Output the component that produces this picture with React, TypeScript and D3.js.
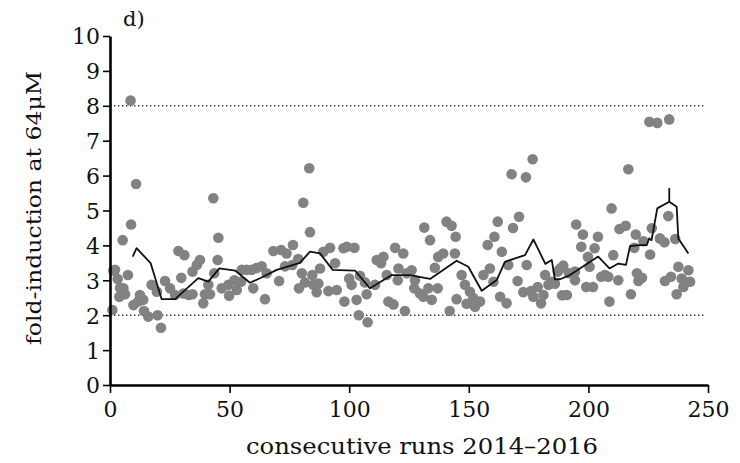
import React, { useEffect, useRef } from 'react';
import * as d3 from 'd3';

// individual runs: [run number, fold-induction]
const runs: [number, number][] = [
  [1, 2.15], [1.4, 3.28], [2.1, 3.3], [3.2, 3.04], [3.9, 2.53], [4.2, 2.78], [5.3, 4.15], [5.6, 2.77],
  [6.3, 2.6], [7.5, 3.15], [8.6, 8.15], [8.8, 4.6], [9.8, 2.29], [10.9, 5.76], [11.8, 2.39], [12.5, 2.58],
  [13.9, 2.44], [14.2, 2.12], [16, 1.96], [17.4, 2.87], [19.6, 2.67], [19.9, 2.0], [21.3, 1.64], [23, 2.98],
  [25.1, 2.77], [27.2, 2.58], [28.6, 3.84], [29.8, 3.07], [30.7, 2.62], [31.1, 3.72], [32.9, 2.58], [34.5, 2.6],
  [34.5, 3.25], [36.3, 3.44], [37.6, 3.58], [39, 2.34], [39.7, 2.6], [41.1, 2.87], [41.8, 2.6], [43.2, 5.35],
  [43.6, 3.2], [45, 3.58], [45.3, 4.22], [46.7, 2.77], [49.5, 2.87], [49.8, 2.56], [52, 3.0], [53, 2.72],
  [54.8, 2.96], [55.1, 3.3], [57.2, 3.3], [59.3, 3.3], [59.9, 2.77], [61.3, 3.35], [63.4, 3.4], [64.8, 2.46],
  [65.5, 3.2], [68.3, 3.84], [70.7, 2.98], [71.5, 3.87], [73.2, 3.4], [73.8, 3.77], [76.2, 3.44], [76.5, 4.01],
  [78.7, 3.61], [79, 2.77], [80.2, 3.2], [80.8, 5.22], [81.5, 2.94], [83.3, 6.21], [83.6, 4.38], [84.6, 3.15],
  [85, 2.87], [86.4, 2.66], [87.1, 2.91], [87.8, 3.34], [89.2, 3.82], [91.3, 2.69], [92, 3.93], [94.1, 3.49],
  [94.8, 2.72], [97.6, 3.92], [98, 2.39], [99, 3.96], [100, 3.05], [101, 2.87], [102.2, 3.93], [103.1, 2.44],
  [104, 2.0], [104.5, 3.13], [106.6, 2.94], [107.3, 2.6], [107.7, 1.8], [110.8, 2.87], [111.5, 3.58], [113.3, 3.49],
  [114.3, 3.67], [115.7, 3.15], [116.4, 2.39], [118.5, 2.31], [119.2, 3.93], [120.3, 3.0], [120.6, 3.34], [122.6, 3.77],
  [123.3, 2.12], [124.1, 3.2], [126.1, 3.29], [127.2, 2.77], [127.5, 3.0], [129.6, 2.62], [131, 2.53], [131.4, 4.51],
  [133.1, 2.77], [133.8, 4.15], [134.5, 2.44], [135.8, 3.36], [137, 2.77], [137.2, 3.67], [139.3, 3.77], [140.7, 4.68],
  [142, 2.12], [142.8, 4.56], [144.2, 3.77], [144.5, 4.25], [144.9, 2.46], [147, 3.15], [148.4, 2.87], [149.1, 2.33],
  [150.5, 2.67], [151.9, 2.49], [152.6, 2.24], [154.7, 2.39], [156.1, 3.15], [157.9, 4.01], [158.8, 3.34], [160.3, 2.96],
  [160.7, 4.25], [162.1, 4.68], [163.1, 2.53], [163.8, 3.82], [165.8, 2.34], [166.5, 3.44], [168.5, 4.5], [167.9, 6.04],
  [170.4, 2.98], [171, 4.82], [172.8, 2.66], [173.9, 5.95], [174.2, 3.44], [176, 2.69], [176.7, 6.47], [177, 2.53],
  [178.8, 2.81], [180.2, 2.34], [181.2, 2.58], [181.9, 3.15], [183.3, 2.87], [184.7, 2.96], [186, 2.9], [187.2, 3.25],
  [188.2, 3.34], [189, 2.57], [189.5, 3.42], [191, 2.58], [191.9, 3.2], [194.4, 3.0], [194.4, 3.25], [194.9, 4.6],
  [197, 3.96], [197.7, 4.31], [199.1, 2.81], [199.8, 3.67], [200.5, 3.39], [201.9, 2.81], [202.6, 3.92], [204, 4.25],
  [205.4, 3.1], [206.9, 3.15], [208.3, 3.1], [208.8, 2.39], [209.7, 5.06], [210.4, 3.72], [212.5, 3.0], [213, 4.47],
  [215.6, 4.56], [216.7, 6.18], [217.8, 2.6], [219.2, 3.93], [219.8, 4.31], [220.3, 3.2], [220.9, 2.98], [222.4, 3.07],
  [223, 4.12], [225.5, 7.54], [225.8, 3.74], [226.5, 4.49], [228.8, 7.51], [229.9, 4.2], [231.8, 4.09], [232, 2.98],
  [233.4, 4.84], [233.8, 7.61], [234.5, 3.1], [236.3, 4.18], [236.9, 2.6], [237.6, 3.39], [239, 3.05], [239.7, 2.81],
  [240.4, 2.96], [241.8, 3.29], [242.5, 2.96],
];

// running mean
const meanX = [9.5, 11.1, 17, 21.6, 27.2, 36.9, 41.1, 45.7, 52.3, 58.5, 62.7, 69.7, 79.4, 83.6, 87.8, 93.1,
  102.4, 108.7, 117.8, 125.4, 133.8, 144.9, 149.8, 155.4, 161.7, 165.1, 173.5, 177, 182, 184.7, 186, 188.1,
  192.3, 204.1, 208.8, 212.5, 215.7, 217.4, 221.3, 224.4, 225.4, 226.4, 228.8, 233.8, 236.9, 237.6, 241.8];
const meanY = [3.68, 3.92, 3.49, 2.46, 2.46, 3.06, 2.96, 3.34, 3.28, 2.93, 3.06, 3.3, 3.5, 3.82, 3.77, 3.3,
  3.28, 2.77, 3.15, 3.15, 3.04, 3.56, 3.39, 2.7, 3.01, 3.53, 3.72, 4.17, 3.47, 3.58, 3.03, 3.03,
  3.15, 3.68, 3.34, 3.48, 3.44, 3.98, 4.01, 4.01, 4.2, 4.15, 5.06, 5.25, 5.11, 4.2, 3.77];

const spike = { x: 233.8, low: 5.25, high: 5.64 };
const limits = [2, 8];
const xTicks = [0, 50, 100, 150, 200, 250];
const yTicks = [0, 1, 2, 3, 4, 5, 6, 7, 8, 9, 10];

const FONT = '"DejaVu Serif", serif';

export default function App() {
  const svgRef = useRef<SVGSVGElement>(null);

  useEffect(() => {
    const svg = d3.select(svgRef.current);
    svg.selectAll('*').remove();

    const x = d3.scaleLinear().domain([0, 250]).range([110, 708]);
    const y = d3.scaleLinear().domain([0, 10]).range([385, 36]);

    // dotted reference lines
    svg.selectAll('line.limit')
      .data(limits)
      .enter().append('line')
      .attr('class', 'limit')
      .attr('x1', x(0)).attr('x2', x(250) - 2)
      .attr('y1', d => y(d)).attr('y2', d => y(d))
      .attr('stroke', '#333')
      .attr('stroke-width', 1.4)
      .attr('stroke-dasharray', '1.4,2.6');

    // points
    svg.append('g')
      .selectAll('circle')
      .data(runs)
      .enter().append('circle')
      .attr('cx', d => x(d[0]))
      .attr('cy', d => y(d[1]))
      .attr('r', 5.3)
      .attr('fill', '#828282');

    // running mean
    const line = d3.line<number>()
      .x((d, i) => x(meanX[i]))
      .y(d => y(d));
    svg.append('path')
      .datum(meanY)
      .attr('fill', 'none')
      .attr('stroke', '#111')
      .attr('stroke-width', 1.8)
      .attr('stroke-linejoin', 'round')
      .attr('d', line);

    svg.append('line')
      .attr('x1', x(spike.x)).attr('x2', x(spike.x))
      .attr('y1', y(spike.low)).attr('y2', y(spike.high))
      .attr('stroke', '#111')
      .attr('stroke-width', 1.8);

    // axes
    const gx = svg.append('g')
      .attr('transform', `translate(0, ${y(0)})`)
      .call(d3.axisBottom(x).tickValues(xTicks).tickSize(8).tickPadding(8).tickSizeOuter(0));
    const gy = svg.append('g')
      .attr('transform', `translate(${x(0)}, 0)`)
      .call(d3.axisLeft(y).tickValues(yTicks).tickSize(7).tickPadding(3).tickSizeOuter(0));

    [gx, gy].forEach(g => {
      g.select('.domain').attr('stroke', '#000').attr('stroke-width', 2.6);
      g.selectAll('.tick line').attr('stroke', '#000').attr('stroke-width', 1.6);
      g.selectAll('.tick text')
        .attr('fill', '#111')
        .style('font-family', FONT)
        .style('font-size', '22px');
    });
    gy.selectAll('.tick text').attr('dy', '0.36em');

    svg.append('text')
      .attr('x', 422).attr('y', 454)
      .attr('text-anchor', 'middle')
      .attr('textLength', 352)
      .attr('lengthAdjust', 'spacingAndGlyphs')
      .style('font-family', FONT).style('font-size', '22px')
      .attr('fill', '#111')
      .text('consecutive runs 2014\u20132016');

    svg.append('text')
      .attr('transform', 'translate(41, 208) rotate(-90)')
      .attr('text-anchor', 'middle')
      .attr('textLength', 274)
      .attr('lengthAdjust', 'spacingAndGlyphs')
      .style('font-family', FONT).style('font-size', '21px')
      .attr('fill', '#111')
      .text('fold-induction at 64\u03bcM');

    svg.append('text')
      .attr('x', 123).attr('y', 26)
      .style('font-family', FONT).style('font-size', '21px')
      .attr('fill', '#111')
      .text('d)');
  }, []);

  return (
    <svg ref={svgRef} width={740} height={463}
      style={{ position: 'absolute', left: 0, top: 0, background: '#fff' }} />
  );
}
